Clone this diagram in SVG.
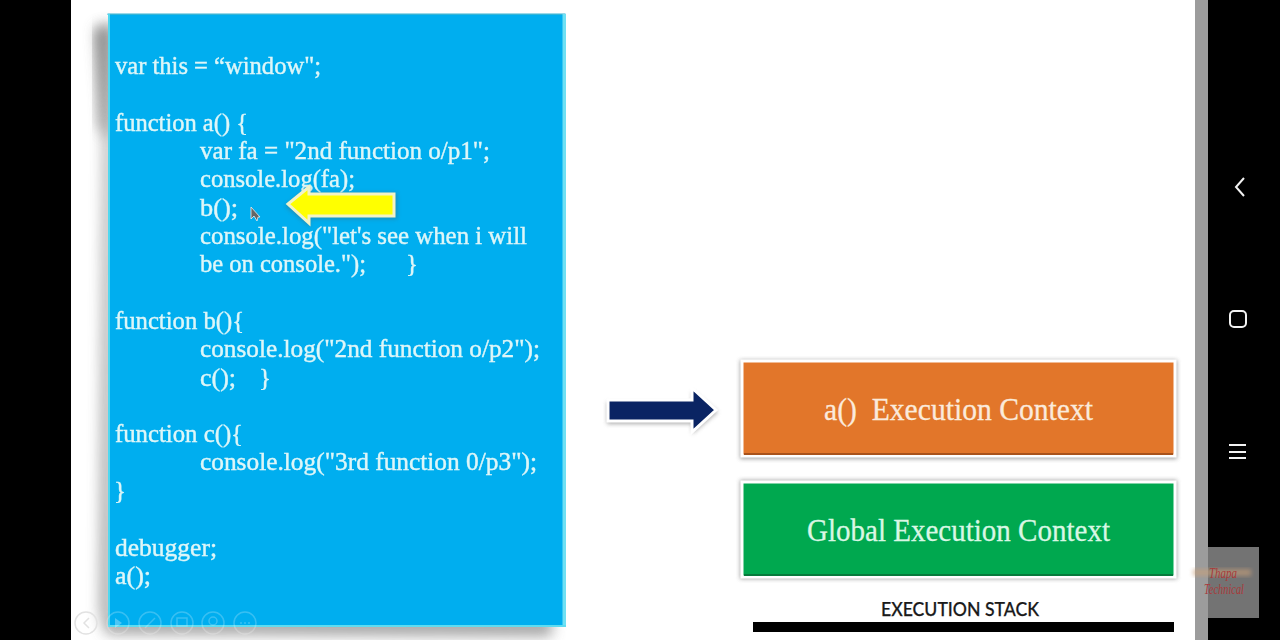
<svg xmlns="http://www.w3.org/2000/svg" width="1280" height="640" viewBox="0 0 1280 640">
<defs>
<filter id="blur6" x="-10%" y="-10%" width="120%" height="120%"><feGaussianBlur stdDeviation="7"/></filter>
<filter id="blur2" x="-20%" y="-20%" width="140%" height="140%"><feGaussianBlur stdDeviation="2"/></filter>
<filter id="soft" x="-5%" y="-5%" width="110%" height="110%"><feGaussianBlur stdDeviation="0.4"/></filter>
</defs>
<style>
.code{font-family:"Liberation Serif",serif;font-size:25px;fill:#def6f8;stroke:#def6f8;stroke-width:.4px}
.ctx{font-family:"Liberation Serif",serif;font-size:31px;stroke-width:.3px}
.tool{fill:none;stroke:#ffffff;stroke-opacity:.22;stroke-width:1.5}
.nav{fill:none;stroke:#f2f2f2;stroke-width:2}
</style>
<rect width="1280" height="640" fill="#000"/>
<rect x="71" y="0" width="1124" height="640" fill="#fff"/>
<rect x="1195" y="0" width="13" height="640" fill="#9c9c9c"/>

<g id="code-panel">
<path d="M112 24L96 28L102 100L104 140L100 610L106 634L552 636V618H112Z" fill="#8a8a8a" opacity=".8" filter="url(#blur6)"/>
<path d="M110 24L94 30L98 125L108 140Z" fill="#777" opacity=".6" filter="url(#blur6)"/>
<rect x="108" y="14" width="457" height="612" fill="#00aeef"/>
<rect x="107.500" y="13.500" width="458" height="1.500" fill="#35b4d6"/>
<rect x="108" y="14" width="2" height="613" fill="#4fd8f0"/>
<rect x="562.500" y="14" width="3.500" height="613" fill="#6fe0f4"/>
<rect x="108" y="625" width="458" height="2" fill="#5fdcf0"/>
<g class="code" filter="url(#soft)">
<text x="115" y="74" textLength="206" lengthAdjust="spacingAndGlyphs">var this = “window";</text>
<text x="115" y="131" textLength="133" lengthAdjust="spacingAndGlyphs">function a() {</text>
<text x="200" y="159" textLength="290" lengthAdjust="spacingAndGlyphs">var fa = "2nd function o/p1";</text>
<text x="200" y="187" textLength="155" lengthAdjust="spacingAndGlyphs">console.log(fa);</text>
<text x="200" y="216" textLength="38" lengthAdjust="spacingAndGlyphs">b();</text>
<text x="200" y="244" textLength="327" lengthAdjust="spacingAndGlyphs">console.log("let's see when i will</text>
<text x="200" y="272" textLength="166" lengthAdjust="spacingAndGlyphs">be on console.");</text>
<text x="406" y="272">}</text>
<text x="115" y="329" textLength="129" lengthAdjust="spacingAndGlyphs">function b(){</text>
<text x="200" y="357" textLength="340" lengthAdjust="spacingAndGlyphs">console.log("2nd function o/p2");</text>
<text x="200" y="386" textLength="36" lengthAdjust="spacingAndGlyphs">c();</text>
<text x="259" y="386">}</text>
<text x="115" y="442" textLength="128" lengthAdjust="spacingAndGlyphs">function c(){</text>
<text x="200" y="470" textLength="337" lengthAdjust="spacingAndGlyphs">console.log("3rd function 0/p3");</text>
<text x="114" y="499">}</text>
<text x="115" y="556" textLength="102" lengthAdjust="spacingAndGlyphs">debugger;</text>
<text x="115" y="584" textLength="36" lengthAdjust="spacingAndGlyphs">a();</text>
</g>
</g>

<g id="connectors">
<g id="yellow-arrow">
<path d="M285 206L310 186V193H397V219H310V227Z" fill="#555" opacity=".35" filter="url(#blur2)"/>
<path d="M288 204L309 187V194H394V216H309V223Z" fill="#ffff00" stroke="#f3f3c8" stroke-width="3" stroke-linejoin="miter"/>
</g>
<g id="blue-arrow">
<path d="M607 402H692V391L718 412L692 434V424H607Z" fill="#777" opacity=".6" filter="url(#blur2)"/>
<path d="M608 400H692V388L716 410L692 432V421H608Z" fill="#0a2463" stroke="#fff" stroke-width="3"/>
</g>
</g>

<g id="a-context">
<rect x="740" y="360" width="437" height="99" fill="#777" opacity=".65" filter="url(#blur2)"/>
<rect x="742" y="361" width="433" height="95" fill="#e2762a" stroke="#fff" stroke-width="3"/>
<rect x="744" y="453" width="429" height="2" fill="#a9521a"/>
<text class="ctx" x="824" y="420" fill="#fbeadb" stroke="#fbeadb" textLength="269" lengthAdjust="spacingAndGlyphs" xml:space="preserve">a()  Execution Context</text>
</g>

<g id="global-context">
<rect x="740" y="480" width="437" height="99" fill="#777" opacity=".65" filter="url(#blur2)"/>
<rect x="742" y="482" width="433" height="95" fill="#00a84f" stroke="#fff" stroke-width="3"/>
<rect x="744" y="574" width="429" height="2" fill="#067a3b"/>
<text class="ctx" x="807" y="541" fill="#d9f7e4" stroke="#d9f7e4" textLength="303" lengthAdjust="spacingAndGlyphs">Global Execution Context</text>
</g>

<g id="execution-stack">
<text x="881" y="616" font-family="Lato,'Liberation Sans',sans-serif" font-size="19" font-weight="500" fill="#1a1a1a" stroke="#1a1a1a" stroke-width=".25" textLength="158" lengthAdjust="spacingAndGlyphs">EXECUTION STACK</text>
<rect x="753" y="622" width="421" height="10" fill="#000"/>
</g>

<g id="phone-nav">
<path class="nav" d="M1244 178L1236 187L1244 196"/>
<rect class="nav" x="1230" y="311" width="16" height="16" rx="4"/>
<path class="nav" d="M1229 445H1246M1229 452H1246M1229 458H1246"/>
</g>

<g id="watermark">
<rect x="1208" y="547" width="51" height="71" fill="#737373"/>
<rect x="1193" y="569" width="58" height="7" fill="#c9a07a" opacity=".6" filter="url(#blur2)"/>
<g font-family="'Liberation Serif',serif" font-style="italic" font-size="15" fill="#a83a3a">
<text x="1209" y="578" textLength="28" lengthAdjust="spacingAndGlyphs">Thapa</text>
<text x="1204" y="594" textLength="40" lengthAdjust="spacingAndGlyphs">Technical</text>
</g>
</g>

<g id="slide-toolbar">
<circle cx="86" cy="623" r="11" fill="none" stroke="#e2e2e2" stroke-width="1.500"/>
<path d="M89 618L84 623L89 628" fill="none" stroke="#e2e2e2" stroke-width="1.500"/>
<circle class="tool" cx="118" cy="623" r="11"/>
<path d="M115 618L122 623L115 628Z" fill="#ffffff" opacity=".3"/>
<circle class="tool" cx="150" cy="623" r="11"/>
<path d="M145 628L155 618" class="tool"/>
<circle class="tool" cx="182" cy="623" r="11"/>
<rect class="tool" x="177" y="618" width="10" height="8"/>
<circle class="tool" cx="213" cy="623" r="11"/>
<circle class="tool" cx="213" cy="621" r="4"/>
<circle class="tool" cx="245" cy="623" r="11"/>
<path d="M240 623h2M244 623h2M248 623h2" class="tool"/>
</g>

<g id="cursor">
<path d="M251 207V219L254 216L257 221L258 217H260Z" fill="#666" stroke="#eee" stroke-width=".8"/>
</g>
</svg>
